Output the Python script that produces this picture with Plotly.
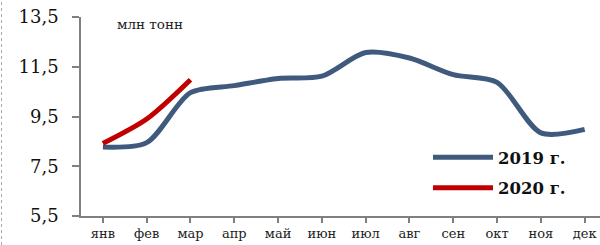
import plotly.graph_objects as go

months = ["янв", "фев", "мар", "апр", "май", "июн", "июл", "авг", "сен", "окт", "ноя", "дек"]
y2019 = [8.27, 8.45, 10.46, 10.74, 11.03, 11.12, 12.07, 11.85, 11.18, 10.87, 8.84, 8.98]
months2020 = ["янв", "фев", "мар"]
y2020 = [8.42, 9.4, 10.98]
yticks = [5.5, 7.5, 9.5, 11.5, 13.5]
yticktext = ["5,5", "7,5", "9,5", "11,5", "13,5"]

L, T, B = 81, 17, 29
PW, PH = 600 - L, 245 - T - B

fig = go.Figure()
fig.add_trace(go.Scatter(x=months, y=y2019, mode="lines", name="2019 г.", legendgroup="a",
                         line=dict(color="#3F5A7D", width=5, shape="spline", smoothing=0.8)))
fig.add_trace(go.Scatter(x=months2020, y=y2020, mode="lines", name="2020 г.", legendgroup="b",
                         line=dict(color="#C00000", width=5, shape="spline", smoothing=0.8)))

axis_font = dict(family="DejaVu Serif", size=13, color="#222")
fig.update_layout(
    width=600, height=245,
    margin=dict(l=L, r=0, t=T, b=B, autoexpand=False),
    paper_bgcolor="white", plot_bgcolor="white",
    showlegend=True,
    legend=dict(x=(428 - L) / PW, y=(245 - B - 140) / PH, xanchor="left", yanchor="top",
                font=dict(family="DejaVu Serif", size=16.5, color="#111", weight="bold"),
                bgcolor="rgba(0,0,0,0)", itemwidth=60, tracegroupgap=6),
    xaxis=dict(type="category", categoryorder="array", categoryarray=months,
               range=[-0.5, 11.35], showgrid=False, zeroline=False,
               showline=True, linecolor="#808080", linewidth=1.5,
               ticks="outside", ticklen=5, tickcolor="#808080", tickwidth=1.5,
               tickfont=axis_font, automargin=False),
    yaxis=dict(range=[5.5, 13.5], tickvals=yticks, ticktext=yticktext,
               showgrid=False, zeroline=False,
               showline=True, linecolor="#808080", linewidth=1.5,
               ticks="outside", ticklen=7, tickcolor="#808080", tickwidth=1.5,
               ticklabelstandoff=10, automargin=False,
               tickfont=dict(family="DejaVu Serif", size=18, color="#111")),
)
fig.add_annotation(text="млн тонн", xref="paper", yref="paper", x=(115 - L) / PW, y=(245 - B - 24) / PH,
                   xanchor="left", yanchor="middle", showarrow=False,
                   font=dict(family="DejaVu Serif", size=13.5, color="#222"))
fig.add_shape(type="line", xref="paper", yref="paper", x0=-(L - 1.5) / PW, x1=-(L - 1.5) / PW,
              y0=-B / PH, y1=(PH + T) / PH,
              line=dict(color="#aaaaaa", width=1, dash="dot"))
fig.write_html("out.html", post_script="document.body.style.margin='0';",
               config={"displayModeBar": False})
